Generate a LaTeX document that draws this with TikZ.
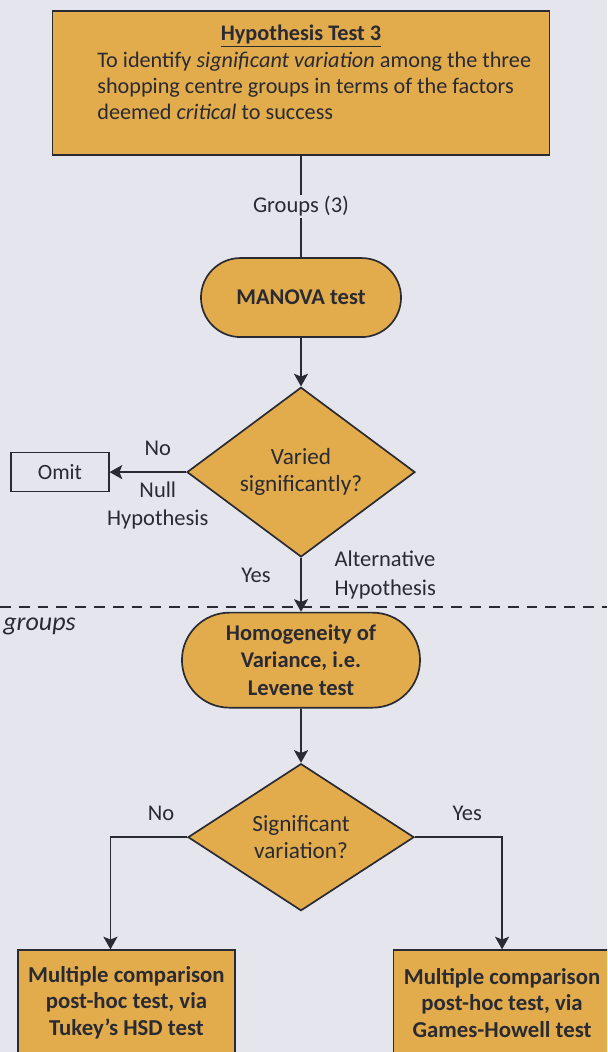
\documentclass[tikz,border=0pt]{standalone}
\usepackage{fontspec}
\setmainfont{Carlito}
\usetikzlibrary{positioning,shapes.geometric,shapes.misc,arrows.meta}

\definecolor{pagebg}{RGB}{229,229,237}
\definecolor{boxgold}{RGB}{226,172,76}
\definecolor{inkgrey}{RGB}{42,42,50}

\tikzset{
  every node/.style={text=inkgrey},
  goldbox/.style={draw=inkgrey,line width=1.2pt,fill=boxgold,inner sep=0pt},
  pill/.style={goldbox,rounded rectangle,minimum width=5cm,minimum height=1.975cm,
    align=center,font=\fontsize{16}{19.5}\selectfont\bfseries},
  decision/.style={goldbox,diamond,align=center,font=\fontsize{16.5}{19.5}\selectfont},
  outcome/.style={goldbox,rectangle,minimum width=5.425cm,minimum height=2.625cm,
    align=center,font=\fontsize{16.2}{18.8}\selectfont\bfseries},
  lbl/.style={align=center,font=\fontsize{16}{20}\selectfont},
  flow/.style={draw=inkgrey,line width=1.3pt,-{Stealth[length=9pt,width=10pt,inset=2pt]}},
}

\begin{document}
\begin{tikzpicture}[x=0.025cm,y=-0.025cm,node distance=2cm,on grid]
\fill[pagebg] (0,0) rectangle (607,1052);
\clip (0,0) rectangle (607,1052);

% boxes of the chain
\node[goldbox,rectangle,minimum width=12.425cm,minimum height=3.6cm] (hyp) at (301,83)
  {\parbox[c][3.6cm][t]{12.3cm}{\fontsize{15.8}{18.8}\selectfont
   \vspace*{10pt}{\centering\underline{\textbf{Hypothesis Test 3}}\par}
   \raggedright\leftskip=1.06cm
   To identify \textit{significant variation} among the three\\
   shopping centre groups in terms of the factors\\
   deemed \textit{critical} to success\par}};
\node[pill] (manova) [below=5.3625cm of hyp] {MANOVA test};
\node[decision,minimum width=5.7cm,minimum height=3.525cm] (dec1) [below=4.3625cm of manova] {Varied\\significantly?};
\node[draw=inkgrey,line width=0.9pt,minimum width=2.45cm,minimum height=0.975cm,
  font=\fontsize{15.5}{18}\selectfont] (omit) [left=6.025cm of dec1] {Omit};
\node[pill,minimum width=5.95cm,minimum height=2.375cm] (homog) [below=4.7cm of dec1]
  {Homogeneity of\\Variance, i.e.\\Levene test};
\node[decision,minimum width=5.65cm,minimum height=3.675cm] (dec2) [below=4.425cm of homog] {Significant\\variation?};
\node[outcome] (tukey) [below left=4.1375cm and 4.3625cm of dec2]
  {Multiple comparison\\post-hoc test, via\\Tukey’s HSD test};
\node[outcome] (games) [below right=4.1375cm and 5.025cm of dec2]
  {Multiple comparison\\post-hoc test, via\\Games-Howell test};

% separator
\draw[inkgrey,line width=1.3pt,dash pattern=on 0.27cm off 0.2cm] (0,607) -- (607,607);
\node[anchor=base west,inner sep=0pt,font=\fontsize{18.5}{20}\selectfont\itshape] (grp) at (3,630) {groups};

% connectors
\draw[inkgrey,line width=1.3pt] (hyp) -- node[lbl,fill=pagebg,inner sep=1pt] {Groups (3)} (manova);
\draw[flow] (manova) -- (dec1);
\draw[flow] (dec1) -- node[lbl,pos=0.37,above=8pt] {No} node[lbl,pos=0.37,below=3pt] {Null\\Hypothesis} (omit);
\draw[flow] (dec1) -- node[lbl,left=0.62cm,yshift=7pt] {Yes} node[lbl,align=left,right=0.7cm,yshift=7pt] {Alternative\\Hypothesis} (homog);
\draw[flow] (homog) -- (dec2);
\draw[flow] (dec2.west) -| node[lbl,pos=0.17,above=8pt] {No} ([xshift=-0.4cm]tukey.north);
\draw[flow] (dec2.east) -| node[lbl,pos=0.3,above=8pt] {Yes} (games.north);
\end{tikzpicture}
\end{document}
